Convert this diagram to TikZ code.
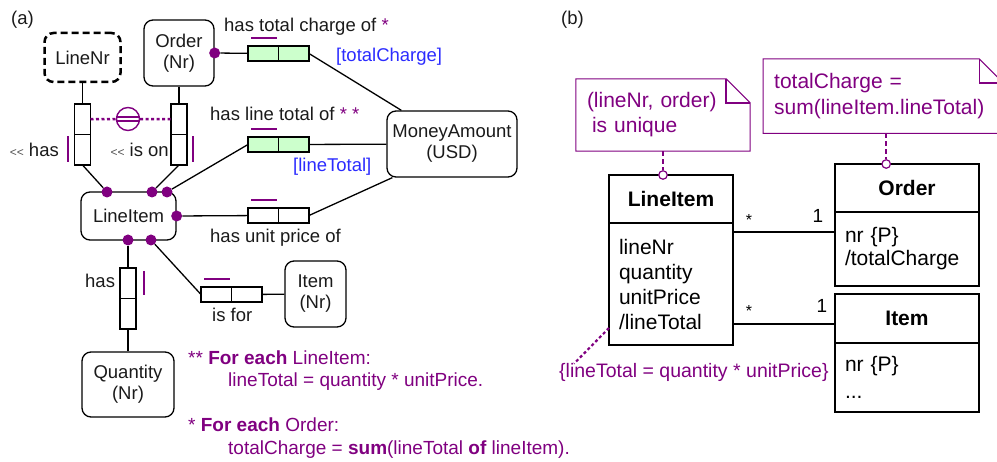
\documentclass[tikz,border=0pt]{standalone}
\usepackage{fontspec}
\setmainfont{Liberation Sans}
\usepackage{tikz}
\usetikzlibrary{positioning,calc}
\definecolor{plum}{HTML}{800080}
\definecolor{lnk}{HTML}{2B2BFF}
\definecolor{fact}{HTML}{CCFFCC}
\definecolor{txt}{HTML}{1A1A1A}

\begin{document}
\begin{tikzpicture}[x=1pt,y=-1pt,
  ent/.style={draw=black,line width=1.3pt,rounded corners=9pt,align=center,inner sep=0pt,
    font=\fontsize{18.5}{21}\selectfont,text=txt},
  refent/.style={ent,line width=2.5pt,dash pattern=on 7pt off 4pt},
  half/.style={draw=black,line width=1.2pt,inner sep=0pt,outer sep=0pt},
  hh/.style={half,minimum width=30.5pt,minimum height=15pt},
  vh/.style={half,minimum width=16pt,minimum height=30.5pt},
  dot/.style={circle,fill=plum,inner sep=0pt,minimum size=11pt},
  ubar/.style={draw=plum,line width=2.2pt},
  conn/.style={draw=black,line width=1.3pt},
  lbl/.style={font=\fontsize{18.5}{21}\selectfont,text=txt,inner sep=0pt,anchor=base west},
  fn/.style={font=\fontsize{19}{21}\selectfont,text=plum,inner sep=0pt,anchor=base west},
  clsh/.style={draw=black,line width=2pt,inner sep=0pt,outer sep=0pt,font=\fontsize{21}{25}\selectfont\bfseries},
  clsb/.style={draw=black,line width=2pt,inner xsep=10pt,inner ysep=0pt,outer sep=0pt,align=left,
    font=\fontsize{21}{25}\selectfont},
  assoc/.style={draw=black,line width=1.4pt},
  mult/.style={inner sep=0pt,anchor=base,font=\fontsize{19}{19}\selectfont},
  note/.style={draw=none,inner xsep=11pt,inner ysep=0pt,align=left,text=plum,font=\fontsize{21}{25}\selectfont},
  nfr/.style={draw=plum,line width=1pt},
  nlink/.style={draw=plum,line width=1.6pt,dash pattern=on 5pt off 3pt},
  ocirc/.style={circle,draw=plum,fill=white,line width=1.2pt,inner sep=0pt,minimum size=8.5pt}]
  \useasboundingbox (0,0) rectangle (997,462);
  \clip (0,0) rectangle (997,462);

  % (a) ORM schema
  \node[lbl] (pa) at (11,25) {(a)};
  \node[refent,minimum width=76pt,minimum height=49pt] (lnr) at (82.5,57.5) {LineNr};
  \node[ent,minimum width=70pt,minimum height=66pt] (ord) at (179,53) {Order\\(Nr)};
  \node[ent,minimum width=95pt,minimum height=48pt] (li) at (128.5,216) {LineItem};
  \node[ent,minimum width=130pt,minimum height=66pt] (ma) at (452,144) {MoneyAmount\\(USD)};
  \node[ent,minimum width=61pt,minimum height=66pt] (itm) at (315.5,294) {Item\\(Nr)};
  \node[ent,minimum width=92pt,minimum height=65pt] (qty) at (128,384.5) {Quantity\\(Nr)};

  \node[vh] (hs1) at (82.5,119.25) {}; \node[vh,below=0pt of hs1] (hs2) {};
  \node[vh] (io1) at (179,119.25) {}; \node[vh,below=0pt of io1] (io2) {};
  \node[hh,fill=fact] (tc1) at (263.25,53.5) {}; \node[hh,fill=fact,right=0pt of tc1] (tc2) {};
  \node[hh,fill=fact] (lt1) at (263.25,144.5) {}; \node[hh,fill=fact,right=0pt of lt1] (lt2) {};
  \node[hh] (up1) at (263.25,215.5) {}; \node[hh,right=0pt of up1] (up2) {};
  \node[hh] (if1) at (216.25,294.5) {}; \node[hh,right=0pt of if1] (if2) {};
  \node[vh] (hq1) at (128,283.25) {}; \node[vh,below=0pt of hq1] (hq2) {};

  \node[dot] (od) at (ord.east) {};
  \node[dot] (d1) at (107,192) {}; \node[dot] (d2) at (152,192) {};
  \node[dot] (d3) at (167,192) {}; \node[dot] (d4) at (li.east) {};
  \node[dot] (d5) at (128,240) {}; \node[dot] (d6) at (151,240) {};

  \draw[conn] (lnr) -- (hs1); \draw[conn] (ord) -- (io1);
  \draw[conn] (hs2.south) -- (d1); \draw[conn] (io2.south) -- (d2);
  \draw[conn] (d3) -- (lt1.west); \draw[conn] (lt2) -- (ma);
  \draw[conn] (od) -- (tc1); \draw[conn] (tc2.east) -- ([xshift=15pt]ma.north west);
  \draw[conn] (d4) -- (up1); \draw[conn] (up2.east) -- ([xshift=6pt]ma.south west);
  \draw[conn] (d6) -- (if1.west); \draw[conn] (if2) -- (itm);
  \draw[conn] (d5) -- (hq1); \draw[conn] (hq2) -- (qty);

  \node[circle,draw=plum,fill=white,line width=1.4pt,minimum size=23pt,inner sep=0pt] (euc) at (128,119) {};
  \draw[plum,line width=2.5pt,dash pattern=on 3pt off 2.5pt] (hs1) -- (euc) (euc) -- (io1);
  \draw[plum,line width=1.1pt] ([yshift=2pt]euc.west) -- ([yshift=2pt]euc.east)
    ([yshift=-2pt]euc.west) -- ([yshift=-2pt]euc.east);

  \draw[ubar] ([xshift=-6.5pt,yshift=-2pt]hs2.north west) -- ([xshift=-6.5pt,yshift=3pt]hs2.south west);
  \draw[ubar] ([xshift=6pt,yshift=-2pt]io2.north east) -- ([xshift=6pt,yshift=3pt]io2.south east);
  \draw[ubar] ([xshift=8pt,yshift=-3pt]hq1.north east) -- ([xshift=8pt,yshift=3pt]hq1.south east);
  \foreach \r in {tc1,lt1,up1,if1}
    \draw[ubar] ([xshift=3pt,yshift=8pt]\r.north west) -- ([xshift=-1.5pt,yshift=8pt]\r.north east);

  \node[lbl] (lhtc) at (224,32) {has total charge of \textcolor{plum}{*}};
  \node[lbl,text=lnk] (rtc) at (336,62) {[totalCharge]};
  \node[lbl] (lhlt) at (210,121) {has line total of \textcolor{plum}{* *}};
  \node[lbl,text=lnk] (rlt) at (293,172) {[lineTotal]};
  \node[lbl] (lhup) at (210,243) {has unit price of};
  \node[lbl] (lif) at (212,322) {is for};
  \node[lbl] (lhq) at (85,288) {has};
  \node[lbl,anchor=base east] (lhs) at (59,157) {{\fontsize{12}{12}\selectfont\color{txt!75}<\kern0pt<} has};
  \node[lbl,anchor=base east] (lio) at (169,157) {{\fontsize{12}{12}\selectfont\color{txt!75}<\kern0pt<} is on};

  \node[fn] (fn1) at (188,365) {** \textbf{For each} LineItem:};
  \node[fn] (fn2) at (228,387) {lineTotal = quantity * unitPrice.};
  \node[fn] (fn3) at (188,432) {* \textbf{For each} Order:};
  \node[fn] (fn4) at (228,455) {totalCharge = \textbf{sum}(lineTotal \textbf{of} lineItem).};

  % (b) UML class diagram
  \node[lbl] (pb) at (561,25) {(b)};
  \node[clsh,minimum width=124pt,minimum height=48pt] (liH) at (671,199) {LineItem};
  \node[clsb,text width=104pt,minimum height=122pt,below=0pt of liH] (liB) {lineNr\\quantity\\unitPrice\\/lineTotal};
  \node[clsh,minimum width=144pt,minimum height=48pt] (oH) at (907,188) {Order};
  \node[clsb,text width=124pt,minimum height=74pt,below=0pt of oH,font=\fontsize{21}{23}\selectfont] (oB) {nr \{P\}\\/totalCharge};
  \node[clsh,minimum width=144pt,minimum height=49pt] (iH) at (907,318.5) {Item};
  \node[clsb,text width=124pt,minimum height=69pt,below=0pt of iH,font=\fontsize{21}{27}\selectfont] (iB) {nr \{P\}\\...};

  \coordinate (a1) at ([yshift=-9pt]liB.north east);
  \coordinate (a2) at ([yshift=21pt]liB.south east);
  \draw[assoc] (a1) -- (a1 -| oB.west);
  \draw[assoc] (a2) -- (a2 -| iH.west);
  \node[mult,font=\fontsize{16}{16}\selectfont] (m1a) at (749,226) {*};
  \node[mult] (m1b) at (818,223) {1};
  \node[mult,font=\fontsize{16}{16}\selectfont] (m2a) at (749,317) {*};
  \node[mult] (m2b) at (822,313) {1};

  \node[note,text width=152pt,minimum height=72pt] (nt1) at (663,115) {(lineNr, order)\\\hspace*{5pt}is unique};
  \draw[nfr] (nt1.north west) -- ([xshift=-24pt]nt1.north east) -- ([yshift=-24pt]nt1.north east)
    -- (nt1.south east) -- (nt1.south west) -- cycle;
  \draw[nfr,line width=1.8pt] ([xshift=-24pt]nt1.north east) -- ([xshift=-24pt,yshift=-24pt]nt1.north east)
    -- ([yshift=-24pt]nt1.north east);
  \node[note,text width=218pt,minimum height=74pt,anchor=north west,font=\fontsize{21}{26}\selectfont] (nt2)
    at (763,59) {totalCharge =\\sum(lineItem.lineTotal)};
  \draw[nfr] (nt2.north west) -- ([xshift=-24pt]nt2.north east) -- ([yshift=-24pt]nt2.north east)
    -- (nt2.south east) -- (nt2.south west) -- cycle;
  \draw[nfr,line width=1.8pt] ([xshift=-24pt]nt2.north east) -- ([xshift=-24pt,yshift=-24pt]nt2.north east)
    -- ([yshift=-24pt]nt2.north east);

  \node[ocirc] (oc1) at (nt1.south |- liH.north) {};
  \draw[nlink] (nt1.south) -- (oc1);
  \coordinate (n2b) at ([xshift=3pt]nt2.south);
  \node[ocirc] (oc2) at (n2b |- oH.north) {};
  \draw[nlink] (n2b) -- (oc2);

  \node[fn,font=\fontsize{19.5}{20}\selectfont] (ltc) at (559,378) {\{lineTotal = quantity * unitPrice\}};
  \draw[plum,line width=2.2pt,dash pattern=on 3pt off 2.5pt] ([yshift=17pt]liB.south west) -- ([xshift=15pt]ltc.north west);
\end{tikzpicture}
\end{document}
